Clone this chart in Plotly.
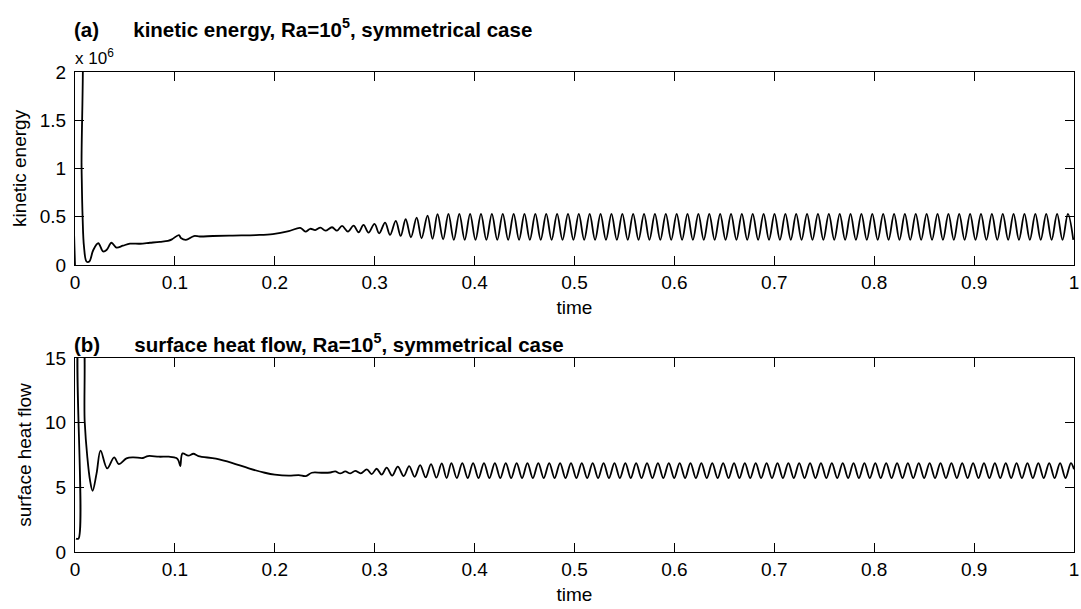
import plotly.graph_objects as go

# ---------------- data (kinetic energy in units of 10^6) ----------------
ke_t_early = [0.0, 0.0012, 0.0045, 0.0066, 0.0076, 0.009, 0.0116, 0.0143, 0.0183, 0.0233,
              0.0282, 0.0316, 0.0365, 0.0415, 0.048, 0.055, 0.065, 0.075, 0.085, 0.093,
              0.097, 0.104, 0.106, 0.111, 0.119, 0.125, 0.138, 0.158, 0.181, 0.198,
              0.214, 0.2255, 0.2307, 0.2355, 0.2405, 0.2457, 0.2507, 0.2573, 0.2623, 0.2673,
              0.2732, 0.2789, 0.2839, 0.2888, 0.2938, 0.2998, 0.3045, 0.3104, 0.3154, 0.3211,
              0.326, 0.331, 0.3363, 0.342, 0.3469, 0.3529, 0.3579, 0.3629, 0.3685]
ke_v_early = [0.0, 2.6, 2.6, 1.0, 0.5, 0.19, 0.035, 0.035, 0.155, 0.225,
              0.14, 0.155, 0.23, 0.18, 0.2, 0.22, 0.22, 0.23, 0.24, 0.25,
              0.265, 0.31, 0.28, 0.26, 0.30, 0.295, 0.30, 0.305, 0.31, 0.32,
              0.35, 0.385, 0.345, 0.375, 0.362, 0.387, 0.356, 0.391, 0.356, 0.405,
              0.346, 0.408, 0.339, 0.415, 0.335, 0.425, 0.328, 0.439, 0.311, 0.456,
              0.301, 0.474, 0.287, 0.491, 0.277, 0.512, 0.270, 0.526, 0.266]

ke_peak_t = [0.3738, 0.3847, 0.3955, 0.4064, 0.4173, 0.4282, 0.4391, 0.4499, 0.4608, 0.4717,
             0.4826, 0.4935, 0.5043, 0.5152, 0.5261, 0.5370, 0.5479, 0.5587, 0.5696, 0.5805,
             0.5914, 0.6023, 0.6131, 0.6240, 0.6349, 0.6458, 0.6567, 0.6675, 0.6784, 0.6893,
             0.7002, 0.7111, 0.7219, 0.7328, 0.7437, 0.7546, 0.7655, 0.7763, 0.7872, 0.7981,
             0.8090, 0.8199, 0.8307, 0.8416, 0.8525, 0.8634, 0.8743, 0.8851, 0.8960, 0.9069,
             0.9178, 0.9287, 0.9395, 0.9504, 0.9613, 0.9722, 0.9831, 0.9939]
ke_peak_v = [0.53, 0.53, 0.53, 0.53, 0.53, 0.53, 0.53, 0.53, 0.53, 0.53,
             0.53, 0.53, 0.53, 0.53, 0.53, 0.53, 0.53, 0.53, 0.53, 0.53,
             0.53, 0.53, 0.53, 0.53, 0.53, 0.53, 0.53, 0.53, 0.53, 0.53,
             0.53, 0.53, 0.53, 0.53, 0.53, 0.53, 0.53, 0.53, 0.53, 0.53,
             0.53, 0.53, 0.53, 0.53, 0.53, 0.53, 0.53, 0.53, 0.53, 0.53,
             0.53, 0.53, 0.53, 0.53, 0.53, 0.53, 0.53, 0.53]
ke_trough_t = [0.3792, 0.3901, 0.4009, 0.4118, 0.4227, 0.4336, 0.4445, 0.4553, 0.4662, 0.4771,
               0.4880, 0.4989, 0.5097, 0.5206, 0.5315, 0.5424, 0.5533, 0.5641, 0.5750, 0.5859,
               0.5968, 0.6077, 0.6185, 0.6294, 0.6403, 0.6512, 0.6621, 0.6729, 0.6838, 0.6947,
               0.7056, 0.7165, 0.7273, 0.7382, 0.7491, 0.7600, 0.7709, 0.7817, 0.7926, 0.8035,
               0.8144, 0.8253, 0.8361, 0.8470, 0.8579, 0.8688, 0.8797, 0.8905, 0.9014, 0.9123,
               0.9232, 0.9341, 0.9449, 0.9558, 0.9667, 0.9776, 0.9885, 0.9993]
ke_trough_v = [0.26, 0.26, 0.26, 0.26, 0.26, 0.26, 0.26, 0.26, 0.26, 0.26,
               0.26, 0.26, 0.26, 0.26, 0.26, 0.26, 0.26, 0.26, 0.26, 0.26,
               0.26, 0.26, 0.26, 0.26, 0.26, 0.26, 0.26, 0.26, 0.26, 0.26,
               0.26, 0.26, 0.26, 0.26, 0.26, 0.26, 0.26, 0.26, 0.26, 0.26,
               0.26, 0.26, 0.26, 0.26, 0.26, 0.26, 0.26, 0.26, 0.26, 0.26,
               0.26, 0.26, 0.26, 0.26, 0.26, 0.26, 0.26, 0.26]

# ---------------- data (surface heat flow) ----------------
hf_t_early = [0.001, 0.0035, 0.0045, 0.0072, 0.0097, 0.0123, 0.015, 0.0176, 0.0216, 0.0256,
              0.0322, 0.0392, 0.0438, 0.0515, 0.0581, 0.068, 0.073, 0.084, 0.094, 0.1015,
              0.1036, 0.1054, 0.1076, 0.1135, 0.1185, 0.1235, 0.141, 0.157, 0.174, 0.19,
              0.2, 0.214, 0.224, 0.231, 0.237, 0.247, 0.2555, 0.2605, 0.2655, 0.2706,
              0.2756, 0.2805, 0.286, 0.2921, 0.297, 0.302, 0.307, 0.312, 0.3175, 0.3231,
              0.329, 0.3345, 0.340, 0.3455, 0.351, 0.3564, 0.3618, 0.3671, 0.372]
hf_v_early = [1.04, 1.04, 17.0, 17.0, 10.1, 7.37, 5.56, 4.73, 6.08, 7.84,
              6.47, 7.32, 6.8, 7.24, 7.32, 7.27, 7.42, 7.37, 7.37, 7.27,
              7.07, 6.65, 7.63, 7.45, 7.6, 7.42, 7.22, 6.9, 6.47, 6.13,
              5.98, 5.9, 5.95, 5.87, 6.13, 6.13, 6.15, 6.23, 6.08, 6.23,
              6.08, 6.28, 6.08, 6.39, 6.03, 6.44, 5.98, 6.52, 5.9, 6.6,
              5.87, 6.65, 5.82, 6.72, 5.77, 6.8, 5.75, 6.85, 5.72]

hf_peak_t = [0.3768, 0.3877, 0.3985, 0.4094, 0.4203, 0.4312, 0.4421, 0.4529, 0.4638, 0.4747,
             0.4856, 0.4965, 0.5073, 0.5182, 0.5291, 0.5400, 0.5509, 0.5617, 0.5726, 0.5835,
             0.5944, 0.6053, 0.6161, 0.6270, 0.6379, 0.6488, 0.6597, 0.6705, 0.6814, 0.6923,
             0.7032, 0.7141, 0.7249, 0.7358, 0.7467, 0.7576, 0.7685, 0.7793, 0.7902, 0.8011,
             0.8120, 0.8229, 0.8337, 0.8446, 0.8555, 0.8664, 0.8773, 0.8881, 0.8990, 0.9099,
             0.9208, 0.9317, 0.9425, 0.9534, 0.9643, 0.9752, 0.9861, 0.9969]
hf_peak_v = [6.88, 6.88, 6.88, 6.88, 6.88, 6.88, 6.88, 6.88, 6.88, 6.88,
             6.88, 6.88, 6.88, 6.88, 6.88, 6.88, 6.88, 6.88, 6.88, 6.88,
             6.88, 6.88, 6.88, 6.88, 6.88, 6.88, 6.88, 6.88, 6.88, 6.88,
             6.88, 6.88, 6.88, 6.88, 6.88, 6.88, 6.88, 6.88, 6.88, 6.88,
             6.88, 6.88, 6.88, 6.88, 6.88, 6.88, 6.88, 6.88, 6.88, 6.88,
             6.88, 6.88, 6.88, 6.88, 6.88, 6.88, 6.88, 6.88]
hf_trough_t = [0.3822, 0.3931, 0.4039, 0.4148, 0.4257, 0.4366, 0.4475, 0.4583, 0.4692, 0.4801,
               0.4910, 0.5019, 0.5127, 0.5236, 0.5345, 0.5454, 0.5563, 0.5671, 0.5780, 0.5889,
               0.5998, 0.6107, 0.6215, 0.6324, 0.6433, 0.6542, 0.6651, 0.6759, 0.6868, 0.6977,
               0.7086, 0.7195, 0.7303, 0.7412, 0.7521, 0.7630, 0.7739, 0.7847, 0.7956, 0.8065,
               0.8174, 0.8283, 0.8391, 0.8500, 0.8609, 0.8718, 0.8827, 0.8935, 0.9044, 0.9153,
               0.9262, 0.9371, 0.9479, 0.9588, 0.9697, 0.9806, 0.9915, 1.0]
hf_trough_v = [5.72, 5.72, 5.72, 5.72, 5.72, 5.72, 5.72, 5.72, 5.72, 5.72,
               5.72, 5.72, 5.72, 5.72, 5.72, 5.72, 5.72, 5.72, 5.72, 5.72,
               5.72, 5.72, 5.72, 5.72, 5.72, 5.72, 5.72, 5.72, 5.72, 5.72,
               5.72, 5.72, 5.72, 5.72, 5.72, 5.72, 5.72, 5.72, 5.72, 5.72,
               5.72, 5.72, 5.72, 5.72, 5.72, 5.72, 5.72, 5.72, 5.72, 5.72,
               5.72, 5.72, 5.72, 5.72, 5.72, 5.72, 5.72, 6.4]

x_tickvals = [0, 0.1, 0.2, 0.3, 0.4, 0.5, 0.6, 0.7, 0.8, 0.9, 1]
x_ticktext = ["0", "0.1", "0.2", "0.3", "0.4", "0.5", "0.6", "0.7", "0.8", "0.9", "1"]
ke_tickvals = [0, 0.5, 1, 1.5, 2]
ke_ticktext = ["0", "0.5", "1", "1.5", "2"]
hf_tickvals = [0, 5, 10, 15]
hf_ticktext = ["0", "5", "10", "15"]


def merge(*pairs):
    pts = []
    for ts, vs in pairs:
        pts.extend(zip(ts, vs))
    pts.sort(key=lambda p: p[0])
    return [p[0] for p in pts], [p[1] for p in pts]


ke_t, ke_v = merge((ke_t_early, ke_v_early), (ke_peak_t, ke_peak_v), (ke_trough_t, ke_trough_v))
hf_t, hf_v = merge((hf_t_early, hf_v_early), (hf_peak_t, hf_peak_v), (hf_trough_t, hf_trough_v))

FONT = "Liberation Sans, Arial, Helvetica, sans-serif"
GAP = "\u00a0" * 6

fig = go.Figure()
fig.add_trace(go.Scatter(x=ke_t, y=ke_v, mode="lines", xaxis="x", yaxis="y",
                         line=dict(color="black", width=1.8, shape="spline", smoothing=1),
                         showlegend=False, hoverinfo="skip"))
fig.add_trace(go.Scatter(x=hf_t, y=hf_v, mode="lines", xaxis="x2", yaxis="y2",
                         line=dict(color="black", width=1.8, shape="spline", smoothing=1),
                         showlegend=False, hoverinfo="skip"))

common = dict(showline=True, linecolor="black", linewidth=1, mirror="allticks",
              ticks="inside", ticklen=9, tickwidth=1, tickcolor="black",
              showgrid=False, zeroline=False,
              tickfont=dict(family=FONT, size=19, color="black"))

fig.update_layout(
    width=1081, height=609,
    margin=dict(l=75, r=2, t=72, b=57),
    paper_bgcolor="white", plot_bgcolor="white",
    font=dict(family=FONT, color="black"),
    xaxis=dict(domain=[0, 1], anchor="y", range=[0, 1], tickvals=x_tickvals, ticktext=x_ticktext,
               ticklabeloverflow="allow",
               title=dict(text="time", font=dict(family=FONT, size=19), standoff=8), **common),
    yaxis=dict(domain=[0.598, 1], anchor="x", range=[0, 2], tickvals=ke_tickvals, ticktext=ke_ticktext,
               ticklabelstandoff=4,
               title=dict(text="kinetic energy", font=dict(family=FONT, size=19), standoff=8), **common),
    xaxis2=dict(domain=[0, 1], anchor="y2", range=[0, 1], tickvals=x_tickvals, ticktext=x_ticktext,
                ticklabeloverflow="allow",
                title=dict(text="time", font=dict(family=FONT, size=19), standoff=8), **common),
    yaxis2=dict(domain=[0, 0.404], anchor="x2", range=[0, 15], tickvals=hf_tickvals, ticktext=hf_ticktext,
                ticklabelstandoff=4,
                title=dict(text="surface heat flow", font=dict(family=FONT, size=19), standoff=8), **common),
    annotations=[
        dict(text="<b>(a)" + GAP + "kinetic energy, Ra=10<sup>5</sup>, symmetrical case</b>",
             xref="paper", yref="paper", x=0, y=1.0917, xanchor="left", yanchor="middle",
             xshift=-3, showarrow=False, font=dict(family=FONT, size=20.5, color="black")),
        dict(text="x 10<sup>6</sup>", xref="paper", yref="paper", x=0, y=1.004,
             xanchor="left", yanchor="bottom", xshift=-2, showarrow=False,
             font=dict(family=FONT, size=17, color="black")),
        dict(text="<b>(b)" + GAP + "surface heat flow, Ra=10<sup>5</sup>, symmetrical case</b>",
             xref="paper", yref="paper", x=0, y=0.4354, xanchor="left", yanchor="middle",
             xshift=-3, showarrow=False, font=dict(family=FONT, size=20.5, color="black")),
    ],
)

fig.write_html("out.html")
